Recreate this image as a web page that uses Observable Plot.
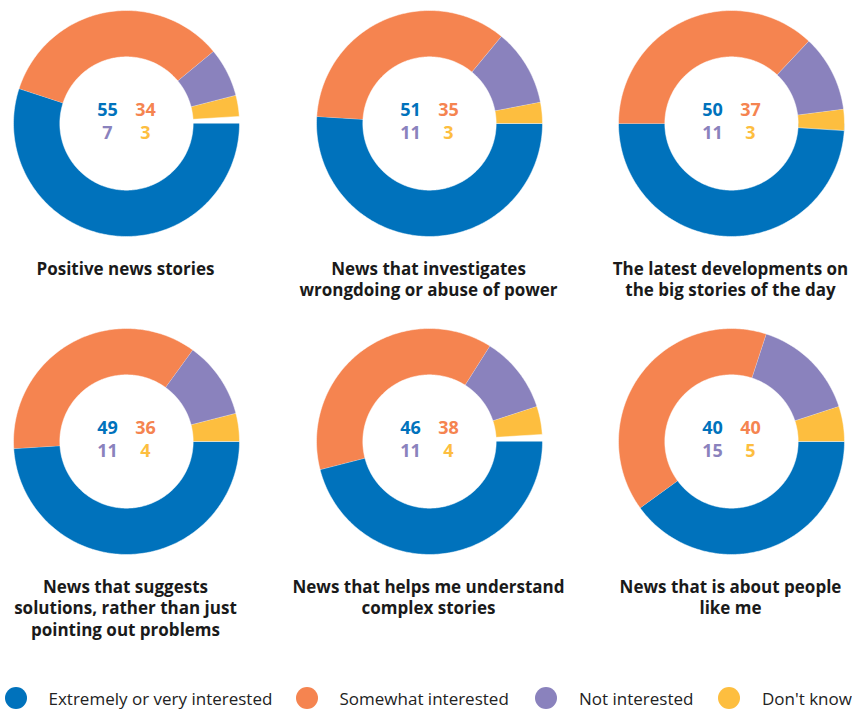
<!DOCTYPE html>
<html>
<head>
<meta charset="utf-8">
<script src="https://cdn.jsdelivr.net/npm/d3@7"></script>
<script src="https://cdn.jsdelivr.net/npm/@observablehq/plot@0.6"></script>
<style>
  html, body { margin: 0; padding: 0; background: #fff; overflow: hidden; }
  #root { position: relative; width: 852px; height: 713px; font-family: "Open Sans", sans-serif; color: #222; }
  .cell { position: absolute; width: 300px; }
  .cell svg { display: block; }
  .title { margin-top: 15px; text-align: center; font-weight: 700; font-size: 17px; line-height: 21.3px; white-space: pre-line; color: #1a1a1a; }
  .legend { position: absolute; left: 0; top: 687px; width: 852px; height: 24px; font-size: 17px; color: #222; }
  .legend .item { position: absolute; top: 0; display: flex; align-items: center; height: 22px; white-space: nowrap; }
  .legend .dot { width: 22px; height: 22px; border-radius: 50%; margin-right: 22px; flex: none; }
</style>
</head>
<body>
<div id="root"></div>
<script>
// ---- data ----
const categories = ["Extremely or very interested", "Somewhat interested", "Not interested", "Don't know"];
const colors = ["#0072bc", "#f58450", "#8a82bd", "#fdbe3f"];
const topics = [
  "Positive news stories",
  "News that investigates\nwrongdoing or abuse of power",
  "The latest developments on\nthe big stories of the day",
  "News that suggests\nsolutions, rather than just\npointing out problems",
  "News that helps me understand\ncomplex stories",
  "News that is about people\nlike me"
];
const extremely     = [55, 51, 50, 49, 46, 40];
const somewhat      = [34, 35, 37, 36, 38, 40];
const notInterested = [ 7, 11, 11, 11, 11, 15];
const dontKnow      = [ 3,  3,  3,  4,  4,  5];

// ---- layout ----
const R = 113;          // outer radius in px
const innerRatio = 0.59;
const W = 300, H = 240;
const centers = [[125.5, 122.5], [428.5, 122.5], [730.5, 122.5], [125.5, 441], [428.5, 441], [730.5, 441]];
const labelOffsets = [[-19, -13], [19, -13], [-19, 10], [19, 10]];
const legendLefts = [4.5, 295.5, 535, 718];

const root = document.getElementById("root");
const color = {domain: categories, range: colors};

topics.forEach((topic, i) => {
  const values = [extremely[i], somewhat[i], notInterested[i], dontKnow[i]];
  // slice polygons in unit coordinates (clockwise from east)
  const pts = [];
  let acc = 0;
  values.forEach((v, k) => {
    const a0 = acc / 100 * 2 * Math.PI;
    const a1 = (acc + v) / 100 * 2 * Math.PI;
    acc += v;
    const n = Math.max(4, Math.ceil((a1 - a0) / (Math.PI / 180)));
    for (let j = 0; j <= n; j++) {
      const a = a0 + (a1 - a0) * j / n;
      pts.push({cat: categories[k], x: Math.cos(a), y: -Math.sin(a)});
    }
    for (let j = n; j >= 0; j--) {
      const a = a0 + (a1 - a0) * j / n;
      pts.push({cat: categories[k], x: innerRatio * Math.cos(a), y: -innerRatio * Math.sin(a)});
    }
  });

  const marks = [
    Plot.line(pts, {x: "x", y: "y", z: "cat", fill: "cat", stroke: "white", strokeWidth: 0.5, curve: "linear"})
  ];
  values.forEach((v, k) => {
    marks.push(Plot.text([v], {
      frameAnchor: "middle",
      text: d => String(d),
      dx: labelOffsets[k][0], dy: labelOffsets[k][1],
      fill: colors[k], fontSize: 18, fontWeight: 700,
      fontFamily: "Open Sans, sans-serif"
    }));
  });

  const chart = Plot.plot({
    width: W, height: H,
    margin: 0,
    x: {domain: [-W / 2 / R, W / 2 / R], axis: null},
    y: {domain: [-H / 2 / R, H / 2 / R], axis: null},
    color,
    marks
  });

  const cell = document.createElement("div");
  cell.className = "cell";
  cell.style.left = (centers[i][0] - W / 2) + "px";
  cell.style.top = (centers[i][1] - H / 2) + "px";
  cell.appendChild(chart);
  const t = document.createElement("div");
  t.className = "title";
  t.textContent = topic;
  cell.appendChild(t);
  root.appendChild(cell);
});

// legend
const legend = document.createElement("div");
legend.className = "legend";
categories.forEach((c, k) => {
  const item = document.createElement("div");
  item.className = "item";
  item.style.left = legendLefts[k] + "px";
  const dot = document.createElement("span");
  dot.className = "dot";
  dot.style.background = colors[k];
  const label = document.createElement("span");
  label.textContent = c;
  item.appendChild(dot);
  item.appendChild(label);
  legend.appendChild(item);
});
root.appendChild(legend);
</script>
</body>
</html>
